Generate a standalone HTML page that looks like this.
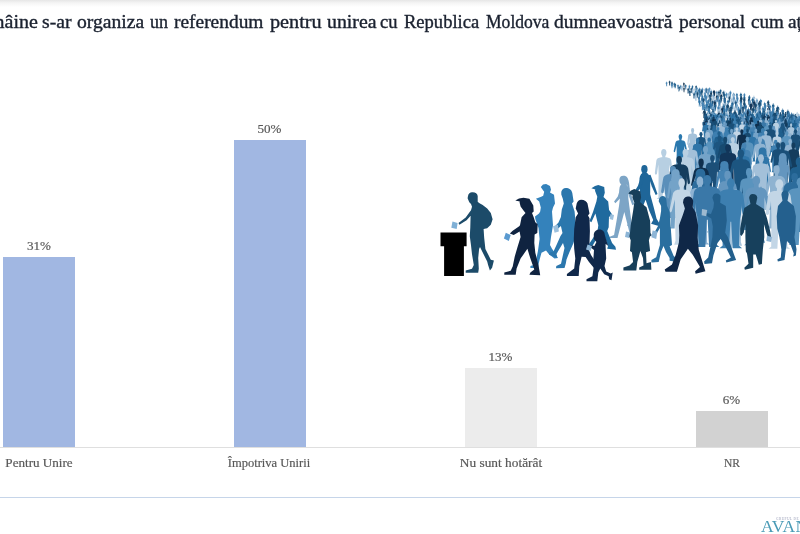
<!DOCTYPE html>
<html lang="ro">
<head>
<meta charset="utf-8">
<title>Referendum unire</title>
<style>
html,body{margin:0;padding:0;}
body{width:800px;height:534px;position:relative;overflow:hidden;background:#fff;font-family:"Liberation Serif",serif;}
.topshade{position:absolute;left:0;top:0;width:800px;height:7px;background:linear-gradient(#e6e6e6,#f4f4f4 40%,#fff);}
.title{position:absolute;left:0;top:0;width:800px;height:44px;overflow:hidden;color:#1b2230;font-size:18.6px;white-space:nowrap;}
.title span{position:absolute;top:10.6px;-webkit-text-stroke:.38px #1b2230;line-height:22px;transform-origin:0 50%;display:inline-block;}
.bar{position:absolute;}
.b1{left:3px;top:257px;width:72px;height:190px;background:#a1b7e2;}
.b2{left:233.700px;top:140.200px;width:72.300px;height:306.800px;background:#a1b7e2;}
.b3{left:465px;top:368px;width:72.400px;height:79px;background:#ececec;}
.b4{left:696px;top:411px;width:72.400px;height:36px;background:#d2d2d2;}
.axis{position:absolute;left:0;top:447px;width:800px;height:1px;background:#dfdfdf;}
.rule{position:absolute;left:0;top:497px;width:800px;height:1px;background:#c6d5e9;}
.val,.lab{position:absolute;color:#595959;-webkit-text-stroke:.2px #595959;font-size:13.1px;line-height:14px;white-space:nowrap;text-align:center;transform:translateX(-50%);}
.logo{position:absolute;left:761px;top:517px;color:#4a9bb6;font-size:17.5px;line-height:18px;letter-spacing:.4px;white-space:nowrap;}
.logosub{position:absolute;left:776px;top:516.800px;color:#9a9fb8;font-size:3.5px;line-height:4px;letter-spacing:.4px;white-space:nowrap;}
#crowd{position:absolute;left:0;top:0;}
</style>
</head>
<body>
<div class="topshade"></div>
<div class="title">
<span style="left:-10.86px;transform:scaleX(1.075)">mâine</span><span style="left:42.26px;transform:scaleX(1.057)">s-ar</span><span style="left:76.93px;transform:scaleX(1.054)">organiza</span><span style="left:149.77px;transform:scaleX(0.969)">un</span><span style="left:174.19px;transform:scaleX(1.044)">referendum</span><span style="left:269.90px;transform:scaleX(1.087)">pentru</span><span style="left:326.50px;transform:scaleX(1.065)">unirea</span><span style="left:380.00px;transform:scaleX(0.995)">cu</span><span style="left:403.95px;transform:scaleX(0.997)">Republica</span><span style="left:485.53px;transform:scaleX(0.944)">Moldova</span><span style="left:554.17px;transform:scaleX(1.053)">dumneavoastră</span><span style="left:679.44px;transform:scaleX(1.049)">personal</span><span style="left:750.76px;transform:scaleX(1.023)">cum</span><span style="left:788.2px;transform:scaleX(1.04)">ați</span>
</div>
<div class="bar b1"></div><div class="bar b2"></div><div class="bar b3"></div><div class="bar b4"></div>
<div class="axis"></div>
<div class="rule"></div>
<div class="val" style="left:39px;top:238.5px">31%</div>
<div class="val" style="left:269.5px;top:122px">50%</div>
<div class="val" style="left:500.5px;top:349.5px">13%</div>
<div class="val" style="left:731.5px;top:392.5px">6%</div>
<div class="lab" style="left:39px;top:456px">Pentru Unire</div>
<div class="lab" style="left:269.4px;top:456px;transform:translateX(-50%) scaleX(.957)">Împotriva Unirii</div>
<div class="lab" style="left:500.5px;top:456px;transform:translateX(-50%) scaleX(1.02)">Nu sunt hotărât</div>
<div class="lab" style="left:732.2px;top:456px;transform:translateX(-50%) scaleX(.88)">NR</div>
<div class="logosub">GRUPUL DE STUDII SOCIO-COMPORTAMENTALE</div>
<div class="logo">AVANGARDE</div>
<!--CROWD-START--><svg id="crowd" width="800" height="534" viewBox="0 0 800 534">
<defs>
<g id="f1"><ellipse cx="0" cy="7.2" rx="5.2" ry="7.2"/><path d="M-3 12V16.5C-8 17-13 17.5-14.5 23L-17.5 47C-18 52-14 53-13.2 48.5L-10.8 31-10.2 52-10.5 97-14 100H-2.5L-0.6 58H0.6L2.5 100H14L10.5 97 10.2 52 10.8 31 13.2 48.5C14 53 18 52 17.5 47L14.5 23C13 17.5 8 17 3 16.5V12Z"/></g>
<g id="f2"><ellipse cx="0" cy="7.2" rx="5" ry="7"/><path d="M-3 12V16.5C-8 17-12 18-13.5 23L-18 44C-19 49-15 50-14 46L-10.5 31-10 52-11.5 96-16 99.5H-5L-0.5 60 3 92 1 96H11.5L9.5 90 10.2 52 10.5 31 15 47C16.5 51 20 49.5 18.5 45.5L13.5 23C12 18 8 17 3 16.5V12Z"/></g>
<g id="f3"><path d="M0-0.5C-6-0.5-7.5 5-7 10-6.8 14-8 16-8.5 18H8.5C8 16 6.8 14 7 10 7.5 5 6-0.5 0-0.5Z"/><path d="M-2.5 13V17C-7 17.5-10.5 18.5-11.5 23L-15 46C-15.5 50-12 50.5-11.5 47L-8.8 31-7.5 42-10.5 56-8 97-11 100H-1.8L-0.5 62H0.5L1.8 100H11L8 97 10.5 56 7.5 42 8.8 31 11.5 47C12 50.5 15.500 50 15 46L11.5 23C10.500 18.500 7 17.500 2.500 17V13Z"/></g>
<g id="f4"><ellipse cx="0" cy="7" rx="5.4" ry="7"/><path d="M-3.500 12V15.500C-10 16-16 17.500-17.500 24L-21 48C-21.500 53-17 54-16.300 49.500L-14 33C-15.500 42-15.500 50-13 58L-11.500 96-16 100H-2.500L-0.600 62H0.600L2.500 100H16L11.500 96 13 58C15.500 50 15.500 42 14 33L16.300 49.500C17 54 21.500 53 21 48L17.500 24C16 17.500 10 16 3.500 15.500V12Z"/></g>
<g id="w1"><ellipse cx="-1" cy="7" rx="5.2" ry="7"/><path d="M-4 12.500C-8 15-9.500 20-9 27L-8 47-15 72-21 94-28.500 97.500V100H-14.500L-6 74 1 57 7 75 13.500 90 10 96.500 22.500 100 24.500 97 19 88 14.500 70 8.500 48 8.500 27C8.500 20 7 15 3 12.500Z"/><path d="M5 17L11 35 17.500 49 20.500 47.500 15.500 33 9 16Z"/><path d="M-6 17L-11.500 34-17.500 44-15 47-6.500 37-2 22Z"/></g>
<g id="w2"><path d="M-1.500-0.300C-7-0.300-8 5-7 9.500-6.500 12-5 13.500-3 14H4C6.500 16 7 20 9 22 9 14 8 8 6 3.500 4.500 0.500 2-0.300-1.500-0.300Z"/><path d="M-4 13C-7 15.500-8 20-7.500 27L-6.500 36-8 48-12 72-16 95-23 98V100H-10.500L-4 75 0.500 58 5 76 9 92 6 97.500 17 100 18.500 97 14.500 89 11.500 70 8.500 48 7 36 7 27C7 20 6 15.500 3 13Z"/><path d="M4 17L8.500 34 13.500 47 16.500 45.500 12.500 32 7.500 16Z"/><path d="M-5 17L-10 33-16 41-14 44-6 36-2 22Z"/></g>
<g id="w3"><ellipse cx="-1" cy="7" rx="5.400" ry="7"/><path d="M-4.500 12.500C-10 15-12.500 20-13 28-14 38-14.500 46-11 52L-14 74-19 95-27 98V100H-12L-5 76 1 60 7 76 12.500 92 9 97 22 100 24 97 18.500 89 15 70 11.500 52C13 44 12.500 34 11.500 27 10.500 19 8 15 3.500 12.500Z"/><path d="M7 17L13.500 35 19 50 22.500 48.500 18 33 11 17Z"/><path d="M-8 18L-14.500 35-20 45-17.500 48-9.500 38-5 24Z"/></g>
<g id="w4"><path d="M-1-0.500C-8-0.500-10 6-9 12-8.500 16-6 18.500-3 19H3C6 19 8.500 16.500 9.500 13 13 15 16 19 17.500 22 17 15 14 10 9.500 8 9 3 5-0.500-1-0.500Z"/><path d="M-5 18C-8 21-9 27-8.500 34L-8 52-13 74-17 94-25 97.500V100H-10L-4 78 1 62 6 78 10 92 7 97 19 100 21 97 16 88 12.500 72 8.500 52 8 34C8 27 7 21 4 18Z"/><path d="M4 23L10 38 18 48 20.500 45.500 14 36 8.500 22Z"/><path d="M-6 23L-13 36-21 42-19.500 45.500-10 40-3 28Z"/></g>
</defs>
<use href="#f1" fill="#143d5e" transform="translate(669.6 80.4) scale(0.052 0.050)"/>
<use href="#f1" fill="#4583b3" transform="translate(666.6 81.5) scale(-0.051 0.047)"/>
<use href="#f1" fill="#1c5580" transform="translate(672.0 81.3) scale(0.059 0.053)"/>
<use href="#f1" fill="#1f5f8d" transform="translate(674.3 82.4) scale(0.054 0.049)"/>
<use href="#f2" fill="#0f2f4d" transform="translate(683.9 82.1) scale(-0.050 0.054)"/>
<use href="#f1" fill="#4583b3" transform="translate(671.9 83.0) scale(-0.053 0.053)"/>
<use href="#f2" fill="#1f5f8d" transform="translate(675.3 83.2) scale(-0.056 0.052)"/>
<use href="#f2" fill="#3a78a8" transform="translate(678.0 84.2) scale(0.054 0.050)"/>
<use href="#f1" fill="#2c6c9c" transform="translate(685.7 84.1) scale(-0.052 0.055)"/>
<use href="#f2" fill="#3a78a8" transform="translate(680.8 84.7) scale(-0.048 0.050)"/>
<use href="#f2" fill="#3d7fb0" transform="translate(689.4 84.5) scale(-0.052 0.054)"/>
<use href="#f2" fill="#2c6c9c" transform="translate(692.5 84.9) scale(0.050 0.053)"/>
<use href="#f1" fill="#174a70" transform="translate(696.1 85.1) scale(-0.053 0.053)"/>
<use href="#f2" fill="#a3c0d9" transform="translate(682.1 85.2) scale(-0.061 0.057)"/>
<use href="#f2" fill="#1c5580" transform="translate(679.2 85.7) scale(0.060 0.059)"/>
<use href="#f2" fill="#4583b3" transform="translate(696.9 86.6) scale(-0.058 0.057)"/>
<use href="#f2" fill="#0f2f4d" transform="translate(684.0 87.0) scale(0.051 0.054)"/>
<use href="#f1" fill="#5a94be" transform="translate(709.6 87.1) scale(0.055 0.056)"/>
<use href="#f1" fill="#174a70" transform="translate(691.4 87.2) scale(-0.064 0.057)"/>
<use href="#f1" fill="#1c5580" transform="translate(706.6 87.5) scale(0.059 0.055)"/>
<use href="#f1" fill="#b9d0e2" transform="translate(694.2 87.7) scale(0.056 0.055)"/>
<use href="#f1" fill="#1a4f78" transform="translate(688.2 87.6) scale(-0.059 0.058)"/>
<use href="#f2" fill="#4583b3" transform="translate(702.4 87.6) scale(-0.065 0.060)"/>
<use href="#f2" fill="#2c6c9c" transform="translate(699.6 87.6) scale(-0.066 0.062)"/>
<use href="#f2" fill="#a3c0d9" transform="translate(692.5 88.2) scale(0.056 0.059)"/>
<use href="#f2" fill="#6496bf" transform="translate(705.5 87.8) scale(0.068 0.064)"/>
<use href="#f1" fill="#6496bf" transform="translate(708.3 88.0) scale(0.064 0.065)"/>
<use href="#f1" fill="#3a78a8" transform="translate(698.8 88.7) scale(0.060 0.058)"/>
<use href="#f1" fill="#1f5f8d" transform="translate(720.6 88.7) scale(0.058 0.060)"/>
<use href="#f1" fill="#174a70" transform="translate(701.7 89.3) scale(-0.064 0.064)"/>
<use href="#f1" fill="#12365a" transform="translate(713.9 89.7) scale(0.062 0.063)"/>
<use href="#f1" fill="#1a4f78" transform="translate(689.8 89.7) scale(-0.063 0.063)"/>
<use href="#f2" fill="#3d7fb0" transform="translate(695.8 89.8) scale(-0.058 0.063)"/>
<use href="#f1" fill="#c3d6e6" transform="translate(724.5 89.9) scale(0.059 0.061)"/>
<use href="#f2" fill="#4583b3" transform="translate(711.2 89.6) scale(0.067 0.065)"/>
<use href="#f1" fill="#4583b3" transform="translate(716.9 90.5) scale(-0.053 0.057)"/>
<use href="#f1" fill="#2c6c9c" transform="translate(700.3 90.4) scale(-0.061 0.063)"/>
<use href="#f2" fill="#12365a" transform="translate(714.4 90.2) scale(0.070 0.066)"/>
<use href="#f2" fill="#1a4f78" transform="translate(723.3 90.6) scale(-0.062 0.063)"/>
<use href="#f2" fill="#174a70" transform="translate(719.0 90.3) scale(0.066 0.067)"/>
<use href="#f1" fill="#3d7fb0" transform="translate(730.4 90.4) scale(-0.065 0.068)"/>
<use href="#f1" fill="#143d5e" transform="translate(711.1 91.5) scale(-0.065 0.060)"/>
<use href="#f1" fill="#174a70" transform="translate(697.4 91.3) scale(-0.060 0.064)"/>
<use href="#f2" fill="#6496bf" transform="translate(708.1 91.1) scale(-0.070 0.067)"/>
<use href="#f2" fill="#6496bf" transform="translate(704.9 91.8) scale(0.067 0.061)"/>
<use href="#f2" fill="#3d7fb0" transform="translate(726.7 92.3) scale(-0.057 0.060)"/>
<use href="#f1" fill="#1c5580" transform="translate(694.1 92.3) scale(0.061 0.061)"/>
<use href="#f1" fill="#3a78a8" transform="translate(733.7 92.6) scale(-0.066 0.061)"/>
<use href="#f2" fill="#8fb3d1" transform="translate(729.0 92.2) scale(-0.071 0.068)"/>
<use href="#f2" fill="#4583b3" transform="translate(699.3 92.7) scale(0.063 0.063)"/>
<use href="#f1" fill="#4583b3" transform="translate(744.4 92.7) scale(0.060 0.065)"/>
<use href="#f2" fill="#3a78a8" transform="translate(736.9 92.7) scale(0.067 0.066)"/>
<use href="#f1" fill="#1f5f8d" transform="translate(724.5 92.5) scale(0.070 0.070)"/>
<use href="#f2" fill="#1f5f8d" transform="translate(740.9 92.5) scale(-0.075 0.071)"/>
<use href="#f2" fill="#6b9cc4" transform="translate(713.2 93.6) scale(-0.061 0.063)"/>
<use href="#f2" fill="#a3c0d9" transform="translate(733.2 93.2) scale(-0.067 0.067)"/>
<use href="#f1" fill="#1a4f78" transform="translate(709.9 93.8) scale(0.070 0.067)"/>
<use href="#f2" fill="#0f2f4d" transform="translate(721.2 93.9) scale(-0.073 0.067)"/>
<use href="#f1" fill="#9bbbd6" transform="translate(695.8 94.4) scale(0.063 0.063)"/>
<use href="#f1" fill="#3d7fb0" transform="translate(705.2 93.7) scale(-0.070 0.071)"/>
<use href="#f2" fill="#3a78a8" transform="translate(702.3 94.5) scale(0.069 0.066)"/>
<use href="#f1" fill="#143d5e" transform="translate(717.0 94.7) scale(0.074 0.067)"/>
<use href="#f1" fill="#1f5f8d" transform="translate(749.3 95.0) scale(-0.068 0.071)"/>
<use href="#f2" fill="#4583b3" transform="translate(718.0 95.4) scale(0.075 0.068)"/>
<use href="#f1" fill="#4583b3" transform="translate(706.2 95.2) scale(0.075 0.071)"/>
<use href="#f1" fill="#174a70" transform="translate(729.5 95.7) scale(-0.065 0.066)"/>
<use href="#f2" fill="#a3c0d9" transform="translate(714.0 95.9) scale(-0.070 0.066)"/>
<use href="#f1" fill="#3a78a8" transform="translate(699.0 96.0) scale(0.065 0.066)"/>
<use href="#f2" fill="#2c6c9c" transform="translate(744.4 95.4) scale(-0.068 0.073)"/>
<use href="#f2" fill="#9bbbd6" transform="translate(753.9 95.5) scale(0.079 0.073)"/>
<use href="#f2" fill="#1c5580" transform="translate(721.2 95.7) scale(0.072 0.072)"/>
<use href="#f2" fill="#4583b3" transform="translate(737.4 96.1) scale(-0.073 0.072)"/>
<use href="#f1" fill="#6496bf" transform="translate(733.9 96.2) scale(-0.072 0.071)"/>
<use href="#f2" fill="#1a4f78" transform="translate(724.7 96.7) scale(-0.074 0.067)"/>
<use href="#f1" fill="#143d5e" transform="translate(741.3 96.1) scale(0.080 0.074)"/>
<use href="#f1" fill="#1c5580" transform="translate(710.7 97.0) scale(-0.062 0.067)"/>
<use href="#f1" fill="#3a78a8" transform="translate(702.2 96.7) scale(0.076 0.073)"/>
<use href="#f1" fill="#174a70" transform="translate(744.3 97.3) scale(-0.072 0.072)"/>
<use href="#f2" fill="#1a4f78" transform="translate(703.6 97.4) scale(-0.072 0.071)"/>
<use href="#f2" fill="#1a4f78" transform="translate(749.1 97.9) scale(0.075 0.069)"/>
<use href="#f2" fill="#a3c0d9" transform="translate(731.8 97.4) scale(-0.076 0.075)"/>
<use href="#f2" fill="#1f5f8d" transform="translate(752.7 97.4) scale(-0.077 0.075)"/>
<use href="#f1" fill="#2c6c9c" transform="translate(724.7 98.2) scale(0.083 0.075)"/>
<use href="#f2" fill="#1a4f78" transform="translate(740.8 98.4) scale(-0.073 0.073)"/>
<use href="#f1" fill="#74a3c8" transform="translate(756.9 98.2) scale(0.078 0.077)"/>
<use href="#f2" fill="#2f75a8" transform="translate(760.8 98.7) scale(-0.074 0.072)"/>
<use href="#f1" fill="#74a3c8" transform="translate(715.8 98.5) scale(-0.081 0.074)"/>
<use href="#f1" fill="#8fb3d1" transform="translate(736.0 99.0) scale(0.073 0.069)"/>
<use href="#f2" fill="#3a78a8" transform="translate(708.6 98.4) scale(-0.082 0.077)"/>
<use href="#f2" fill="#2c6c9c" transform="translate(719.6 98.7) scale(0.076 0.076)"/>
<use href="#f1" fill="#2c6c9c" transform="translate(728.1 99.2) scale(-0.068 0.073)"/>
<use href="#f2" fill="#1c5580" transform="translate(712.6 99.6) scale(-0.073 0.069)"/>
<use href="#f2" fill="#2f75a8" transform="translate(699.6 99.2) scale(-0.077 0.075)"/>
<use href="#f2" fill="#5a94be" transform="translate(749.7 99.5) scale(-0.083 0.077)"/>
<use href="#f2" fill="#174a70" transform="translate(768.2 100.1) scale(-0.078 0.072)"/>
<use href="#f1" fill="#3d7fb0" transform="translate(707.0 100.1) scale(0.069 0.073)"/>
<use href="#f2" fill="#1c5580" transform="translate(735.8 100.4) scale(0.073 0.076)"/>
<use href="#f1" fill="#4583b3" transform="translate(719.3 100.7) scale(-0.069 0.074)"/>
<use href="#f1" fill="#12365a" transform="translate(754.2 100.3) scale(0.085 0.079)"/>
<use href="#f1" fill="#12365a" transform="translate(714.8 100.3) scale(0.074 0.079)"/>
<use href="#f1" fill="#2f75a8" transform="translate(740.7 101.0) scale(-0.069 0.074)"/>
<use href="#f1" fill="#1f5f8d" transform="translate(732.5 101.5) scale(-0.077 0.072)"/>
<use href="#f1" fill="#143d5e" transform="translate(759.4 100.8) scale(-0.084 0.081)"/>
<use href="#f2" fill="#3a78a8" transform="translate(764.7 101.8) scale(-0.067 0.072)"/>
<use href="#f2" fill="#174a70" transform="translate(744.4 101.6) scale(-0.079 0.074)"/>
<use href="#f1" fill="#2f75a8" transform="translate(710.4 101.7) scale(0.078 0.074)"/>
<use href="#f1" fill="#c3d6e6" transform="translate(723.5 101.8) scale(-0.079 0.078)"/>
<use href="#f2" fill="#a9c5dc" transform="translate(727.3 101.7) scale(-0.073 0.079)"/>
<use href="#f1" fill="#6496bf" transform="translate(703.2 101.9) scale(0.081 0.076)"/>
<use href="#f1" fill="#3a78a8" transform="translate(711.8 102.6) scale(-0.075 0.075)"/>
<use href="#f1" fill="#4583b3" transform="translate(702.8 102.0) scale(0.085 0.082)"/>
<use href="#f3" fill="#5a94be" transform="translate(741.1 102.7) scale(-0.085 0.075)"/>
<use href="#f4" fill="#12365a" transform="translate(751.1 102.6) scale(-0.087 0.080)"/>
<use href="#f1" fill="#74a3c8" transform="translate(736.8 103.1) scale(-0.083 0.075)"/>
<use href="#f1" fill="#1c5580" transform="translate(759.6 102.3) scale(-0.080 0.084)"/>
<use href="#f3" fill="#4583b3" transform="translate(731.7 103.0) scale(-0.077 0.079)"/>
<use href="#f1" fill="#2f75a8" transform="translate(706.7 102.5) scale(0.086 0.084)"/>
<use href="#f1" fill="#174a70" transform="translate(755.7 102.7) scale(-0.076 0.082)"/>
<use href="#f4" fill="#174a70" transform="translate(727.6 103.8) scale(0.084 0.075)"/>
<use href="#f1" fill="#3d7fb0" transform="translate(765.3 103.6) scale(-0.075 0.077)"/>
<use href="#f1" fill="#1f5f8d" transform="translate(773.2 103.2) scale(0.081 0.083)"/>
<use href="#f2" fill="#1f5f8d" transform="translate(715.3 103.7) scale(0.077 0.079)"/>
<use href="#f1" fill="#2c6c9c" transform="translate(745.7 103.9) scale(-0.077 0.079)"/>
<use href="#f2" fill="#2c6c9c" transform="translate(723.9 103.9) scale(0.087 0.080)"/>
<use href="#f2" fill="#3a78a8" transform="translate(769.7 103.8) scale(-0.086 0.084)"/>
<use href="#f4" fill="#a9c5dc" transform="translate(720.2 104.6) scale(0.080 0.078)"/>
<use href="#f1" fill="#1c5580" transform="translate(709.1 104.2) scale(0.089 0.089)"/>
<use href="#f2" fill="#4583b3" transform="translate(718.4 105.3) scale(-0.074 0.079)"/>
<use href="#f3" fill="#2f75a8" transform="translate(704.8 104.8) scale(-0.083 0.085)"/>
<use href="#f1" fill="#1a4f78" transform="translate(743.0 105.5) scale(-0.087 0.080)"/>
<use href="#f3" fill="#6b9cc4" transform="translate(758.3 105.2) scale(-0.090 0.083)"/>
<use href="#f1" fill="#1c5580" transform="translate(777.8 105.6) scale(0.091 0.084)"/>
<use href="#f1" fill="#6b9cc4" transform="translate(713.6 105.5) scale(0.083 0.085)"/>
<use href="#f1" fill="#3d7fb0" transform="translate(763.0 106.1) scale(0.076 0.079)"/>
<use href="#f2" fill="#1a4f78" transform="translate(731.0 105.3) scale(-0.082 0.088)"/>
<use href="#f2" fill="#3a78a8" transform="translate(726.6 106.3) scale(0.084 0.082)"/>
<use href="#f1" fill="#a9c5dc" transform="translate(734.7 106.3) scale(-0.082 0.082)"/>
<use href="#f2" fill="#4583b3" transform="translate(773.4 106.5) scale(-0.083 0.081)"/>
<use href="#f4" fill="#174a70" transform="translate(753.3 106.8) scale(0.080 0.079)"/>
<use href="#f2" fill="#12365a" transform="translate(768.5 106.3) scale(0.089 0.085)"/>
<use href="#f2" fill="#12365a" transform="translate(722.3 106.6) scale(0.082 0.083)"/>
<use href="#f3" fill="#4583b3" transform="translate(738.6 106.9) scale(-0.089 0.082)"/>
<use href="#f1" fill="#2c6c9c" transform="translate(748.4 107.6) scale(-0.077 0.080)"/>
<use href="#f3" fill="#3d7fb0" transform="translate(709.0 107.8) scale(0.096 0.087)"/>
<use href="#f1" fill="#2c6c9c" transform="translate(782.7 108.4) scale(-0.084 0.082)"/>
<use href="#f2" fill="#2f75a8" transform="translate(724.4 107.4) scale(0.086 0.093)"/>
<use href="#f3" fill="#174a70" transform="translate(729.9 107.7) scale(-0.090 0.091)"/>
<use href="#f3" fill="#174a70" transform="translate(777.0 108.0) scale(-0.091 0.088)"/>
<use href="#f1" fill="#1a4f78" transform="translate(740.2 108.2) scale(-0.086 0.086)"/>
<use href="#f2" fill="#a9c5dc" transform="translate(768.2 108.1) scale(-0.092 0.089)"/>
<use href="#f2" fill="#3a78a8" transform="translate(755.2 108.2) scale(0.089 0.091)"/>
<use href="#f3" fill="#1c5580" transform="translate(764.0 108.6) scale(0.091 0.093)"/>
<use href="#f1" fill="#c3d6e6" transform="translate(718.8 108.9) scale(0.098 0.091)"/>
<use href="#f1" fill="#3a78a8" transform="translate(772.4 109.7) scale(-0.080 0.082)"/>
<use href="#f1" fill="#6b9cc4" transform="translate(746.2 108.8) scale(0.098 0.092)"/>
<use href="#f3" fill="#1c5580" transform="translate(712.9 109.1) scale(0.098 0.091)"/>
<use href="#f1" fill="#3a78a8" transform="translate(759.7 109.6) scale(0.090 0.087)"/>
<use href="#f2" fill="#143d5e" transform="translate(704.3 109.3) scale(-0.092 0.091)"/>
<use href="#f2" fill="#3a78a8" transform="translate(749.9 109.2) scale(0.103 0.093)"/>
<use href="#f2" fill="#1c5580" transform="translate(787.9 109.5) scale(-0.091 0.091)"/>
<use href="#f2" fill="#174a70" transform="translate(735.0 109.9) scale(0.095 0.087)"/>
<use href="#f4" fill="#3a78a8" transform="translate(770.0 110.2) scale(-0.088 0.095)"/>
<use href="#f1" fill="#1c5580" transform="translate(760.1 110.6) scale(0.092 0.091)"/>
<use href="#f3" fill="#0f2f4d" transform="translate(747.8 110.3) scale(0.101 0.097)"/>
<use href="#f2" fill="#2c6c9c" transform="translate(730.9 111.3) scale(-0.081 0.087)"/>
<use href="#f1" fill="#3a78a8" transform="translate(750.1 111.4) scale(-0.095 0.087)"/>
<use href="#f1" fill="#b9d0e2" transform="translate(727.6 110.5) scale(0.090 0.096)"/>
<use href="#f4" fill="#b9d0e2" transform="translate(754.4 111.3) scale(0.092 0.089)"/>
<use href="#f2" fill="#174a70" transform="translate(783.2 111.4) scale(0.084 0.088)"/>
<use href="#f3" fill="#174a70" transform="translate(739.5 111.3) scale(-0.102 0.092)"/>
<use href="#f1" fill="#3d7fb0" transform="translate(772.6 110.9) scale(-0.099 0.096)"/>
<use href="#f1" fill="#174a70" transform="translate(775.1 111.4) scale(0.099 0.092)"/>
<use href="#f3" fill="#1f5f8d" transform="translate(724.2 111.2) scale(0.097 0.095)"/>
<use href="#f2" fill="#3d7fb0" transform="translate(762.6 111.5) scale(-0.097 0.092)"/>
<use href="#f2" fill="#143d5e" transform="translate(719.0 111.3) scale(0.099 0.094)"/>
<use href="#f4" fill="#2c6c9c" transform="translate(757.3 111.9) scale(-0.087 0.089)"/>
<use href="#f3" fill="#74a3c8" transform="translate(712.9 111.5) scale(-0.090 0.093)"/>
<use href="#f1" fill="#3d7fb0" transform="translate(707.8 111.9) scale(0.098 0.090)"/>
<use href="#f3" fill="#1f5f8d" transform="translate(777.4 111.7) scale(0.089 0.094)"/>
<use href="#f2" fill="#174a70" transform="translate(705.7 112.0) scale(0.101 0.092)"/>
<use href="#f1" fill="#2f75a8" transform="translate(788.7 112.2) scale(-0.086 0.090)"/>
<use href="#f1" fill="#1a4f78" transform="translate(710.0 111.8) scale(-0.088 0.093)"/>
<use href="#f1" fill="#6b9cc4" transform="translate(741.7 112.4) scale(-0.082 0.087)"/>
<use href="#f4" fill="#3d7fb0" transform="translate(744.7 111.8) scale(0.101 0.094)"/>
<use href="#f4" fill="#3d7fb0" transform="translate(721.4 112.5) scale(-0.096 0.087)"/>
<use href="#f2" fill="#3a78a8" transform="translate(788.9 111.6) scale(0.098 0.098)"/>
<use href="#f2" fill="#1f5f8d" transform="translate(764.8 111.8) scale(0.100 0.095)"/>
<use href="#f4" fill="#1c5580" transform="translate(711.1 112.3) scale(0.088 0.091)"/>
<use href="#f4" fill="#b9d0e2" transform="translate(797.2 111.8) scale(-0.106 0.096)"/>
<use href="#f2" fill="#c3d6e6" transform="translate(708.6 112.2) scale(0.098 0.092)"/>
<use href="#f2" fill="#3d7fb0" transform="translate(741.4 112.4) scale(-0.086 0.091)"/>
<use href="#f3" fill="#174a70" transform="translate(785.6 112.0) scale(0.089 0.095)"/>
<use href="#f2" fill="#1f5f8d" transform="translate(752.3 112.3) scale(-0.099 0.093)"/>
<use href="#f1" fill="#2c6c9c" transform="translate(782.8 112.4) scale(0.086 0.093)"/>
<use href="#f1" fill="#2f75a8" transform="translate(767.1 112.0) scale(-0.105 0.097)"/>
<use href="#f3" fill="#4583b3" transform="translate(777.2 111.9) scale(0.096 0.098)"/>
<use href="#f4" fill="#4583b3" transform="translate(736.3 112.7) scale(0.088 0.091)"/>
<use href="#f3" fill="#8fb3d1" transform="translate(780.2 112.8) scale(-0.094 0.091)"/>
<use href="#f3" fill="#1a4f78" transform="translate(780.5 112.3) scale(0.094 0.096)"/>
<use href="#f3" fill="#174a70" transform="translate(733.1 112.7) scale(0.095 0.092)"/>
<use href="#f2" fill="#4583b3" transform="translate(771.6 113.1) scale(-0.084 0.088)"/>
<use href="#f4" fill="#2c6c9c" transform="translate(733.3 112.6) scale(0.102 0.093)"/>
<use href="#f2" fill="#174a70" transform="translate(773.9 112.3) scale(0.095 0.097)"/>
<use href="#f1" fill="#3d7fb0" transform="translate(759.3 112.7) scale(0.101 0.093)"/>
<use href="#f2" fill="#2c6c9c" transform="translate(715.9 112.8) scale(0.089 0.094)"/>
<use href="#f1" fill="#5a94be" transform="translate(720.3 112.7) scale(0.103 0.095)"/>
<use href="#f4" fill="#174a70" transform="translate(792.1 113.4) scale(-0.097 0.087)"/>
<use href="#f3" fill="#a3c0d9" transform="translate(768.5 112.3) scale(0.099 0.099)"/>
<use href="#f2" fill="#1a4f78" transform="translate(762.6 112.8) scale(-0.088 0.095)"/>
<use href="#f1" fill="#3a78a8" transform="translate(791.6 112.5) scale(0.099 0.099)"/>
<use href="#f4" fill="#2f75a8" transform="translate(714.5 113.0) scale(0.099 0.094)"/>
<use href="#f4" fill="#1f5f8d" transform="translate(705.9 113.5) scale(-0.087 0.090)"/>
<use href="#f1" fill="#3d7fb0" transform="translate(726.8 113.2) scale(-0.098 0.096)"/>
<use href="#f2" fill="#1a4f78" transform="translate(793.8 113.4) scale(-0.090 0.096)"/>
<use href="#f3" fill="#1c5580" transform="translate(744.8 113.5) scale(-0.097 0.096)"/>
<use href="#f2" fill="#2c6c9c" transform="translate(723.5 114.0) scale(-0.096 0.090)"/>
<use href="#f3" fill="#1a4f78" transform="translate(736.0 113.3) scale(0.098 0.098)"/>
<use href="#f2" fill="#2f75a8" transform="translate(756.6 113.4) scale(-0.102 0.097)"/>
<use href="#f2" fill="#a9c5dc" transform="translate(765.6 113.9) scale(-0.087 0.092)"/>
<use href="#f1" fill="#2c6c9c" transform="translate(733.5 113.5) scale(0.107 0.099)"/>
<use href="#f4" fill="#1a4f78" transform="translate(750.3 113.7) scale(0.092 0.097)"/>
<use href="#f1" fill="#6496bf" transform="translate(740.2 113.7) scale(-0.108 0.098)"/>
<use href="#f2" fill="#4583b3" transform="translate(717.6 114.3) scale(0.103 0.092)"/>
<use href="#f4" fill="#2c6c9c" transform="translate(753.4 114.6) scale(0.099 0.089)"/>
<use href="#f1" fill="#3d7fb0" transform="translate(743.5 113.1) scale(-0.107 0.104)"/>
<use href="#f3" fill="#2f75a8" transform="translate(717.6 114.2) scale(0.093 0.095)"/>
<use href="#f1" fill="#4583b3" transform="translate(729.9 114.5) scale(0.091 0.092)"/>
<use href="#f1" fill="#143d5e" transform="translate(785.6 114.2) scale(0.103 0.096)"/>
<use href="#f1" fill="#1a4f78" transform="translate(748.0 114.5) scale(-0.096 0.094)"/>
<use href="#f3" fill="#143d5e" transform="translate(729.6 115.2) scale(0.097 0.088)"/>
<use href="#f2" fill="#1f5f8d" transform="translate(705.5 114.4) scale(-0.090 0.096)"/>
<use href="#f2" fill="#174a70" transform="translate(795.4 114.1) scale(-0.101 0.099)"/>
<use href="#f3" fill="#a3c0d9" transform="translate(738.8 115.1) scale(0.098 0.090)"/>
<use href="#f1" fill="#2c6c9c" transform="translate(770.6 114.4) scale(0.101 0.097)"/>
<use href="#f2" fill="#4583b3" transform="translate(712.4 114.6) scale(0.098 0.096)"/>
<use href="#f1" fill="#6b9cc4" transform="translate(802.1 114.3) scale(-0.092 0.098)"/>
<use href="#f2" fill="#3a78a8" transform="translate(764.3 114.1) scale(-0.096 0.102)"/>
<use href="#f2" fill="#5a94be" transform="translate(709.0 114.5) scale(0.096 0.098)"/>
<use href="#f2" fill="#1a4f78" transform="translate(737.2 115.3) scale(0.101 0.092)"/>
<use href="#f2" fill="#9bbbd6" transform="translate(786.5 115.1) scale(-0.103 0.094)"/>
<use href="#f1" fill="#174a70" transform="translate(761.4 115.1) scale(0.091 0.094)"/>
<use href="#f1" fill="#174a70" transform="translate(791.9 114.6) scale(-0.110 0.099)"/>
<use href="#f4" fill="#1f5f8d" transform="translate(783.2 114.9) scale(0.089 0.097)"/>
<use href="#f2" fill="#6b9cc4" transform="translate(799.0 114.3) scale(-0.107 0.103)"/>
<use href="#f3" fill="#1f5f8d" transform="translate(780.2 115.3) scale(0.106 0.095)"/>
<use href="#f1" fill="#143d5e" transform="translate(776.7 114.6) scale(0.101 0.102)"/>
<use href="#f4" fill="#174a70" transform="translate(720.8 115.0) scale(-0.111 0.100)"/>
<use href="#f4" fill="#a9c5dc" transform="translate(724.0 115.6) scale(-0.099 0.094)"/>
<use href="#f3" fill="#1c5580" transform="translate(767.5 114.8) scale(0.095 0.102)"/>
<use href="#f2" fill="#b9d0e2" transform="translate(755.6 115.2) scale(0.098 0.100)"/>
<use href="#f1" fill="#4583b3" transform="translate(749.1 115.8) scale(0.094 0.094)"/>
<use href="#f4" fill="#143d5e" transform="translate(745.8 115.7) scale(-0.092 0.095)"/>
<use href="#f1" fill="#174a70" transform="translate(806.6 113.7) scale(-0.124 0.116)"/>
<use href="#f2" fill="#1a4f78" transform="translate(713.5 115.0) scale(0.098 0.103)"/>
<use href="#f1" fill="#74a3c8" transform="translate(728.1 114.4) scale(0.119 0.110)"/>
<use href="#f2" fill="#1c5580" transform="translate(717.6 114.3) scale(-0.109 0.111)"/>
<use href="#f2" fill="#9bbbd6" transform="translate(744.3 114.3) scale(0.104 0.111)"/>
<use href="#f1" fill="#1f5f8d" transform="translate(788.9 115.3) scale(0.105 0.102)"/>
<use href="#f1" fill="#0f2f4d" transform="translate(768.7 114.8) scale(0.100 0.107)"/>
<use href="#f2" fill="#1c5580" transform="translate(751.4 114.8) scale(-0.111 0.108)"/>
<use href="#f2" fill="#12365a" transform="translate(764.6 114.2) scale(0.122 0.113)"/>
<use href="#f1" fill="#3a78a8" transform="translate(758.1 115.8) scale(0.102 0.098)"/>
<use href="#f2" fill="#3a78a8" transform="translate(773.8 115.5) scale(-0.103 0.102)"/>
<use href="#f2" fill="#5a94be" transform="translate(794.0 114.3) scale(0.106 0.114)"/>
<use href="#f1" fill="#4583b3" transform="translate(726.4 116.6) scale(0.094 0.092)"/>
<use href="#f3" fill="#3d7fb0" transform="translate(734.4 114.5) scale(-0.106 0.113)"/>
<use href="#f1" fill="#1c5580" transform="translate(752.1 116.3) scale(-0.100 0.095)"/>
<use href="#f2" fill="#1a4f78" transform="translate(706.4 114.6) scale(0.108 0.114)"/>
<use href="#f3" fill="#4583b3" transform="translate(714.8 116.3) scale(0.100 0.097)"/>
<use href="#f2" fill="#1f5f8d" transform="translate(757.5 114.6) scale(-0.113 0.115)"/>
<use href="#f1" fill="#a3c0d9" transform="translate(777.3 115.5) scale(-0.105 0.105)"/>
<use href="#f1" fill="#1f5f8d" transform="translate(748.4 116.1) scale(-0.108 0.103)"/>
<use href="#f2" fill="#2c6c9c" transform="translate(737.6 115.6) scale(-0.103 0.108)"/>
<use href="#f1" fill="#3a78a8" transform="translate(787.3 115.3) scale(-0.109 0.115)"/>
<use href="#f3" fill="#4583b3" transform="translate(771.5 116.2) scale(-0.121 0.109)"/>
<use href="#f4" fill="#174a70" transform="translate(721.1 115.5) scale(-0.115 0.116)"/>
<use href="#f1" fill="#2f75a8" transform="translate(731.8 115.4) scale(-0.127 0.117)"/>
<use href="#f1" fill="#174a70" transform="translate(783.6 116.0) scale(-0.122 0.112)"/>
<use href="#f4" fill="#1c5580" transform="translate(740.4 116.9) scale(-0.104 0.103)"/>
<use href="#f1" fill="#b9d0e2" transform="translate(809.5 117.3) scale(-0.098 0.103)"/>
<use href="#f4" fill="#1f5f8d" transform="translate(780.8 116.1) scale(-0.108 0.115)"/>
<use href="#f4" fill="#4583b3" transform="translate(800.4 116.1) scale(0.127 0.116)"/>
<use href="#f1" fill="#1a4f78" transform="translate(774.0 116.6) scale(-0.104 0.110)"/>
<use href="#f1" fill="#1c5580" transform="translate(746.3 115.8) scale(-0.121 0.119)"/>
<use href="#f4" fill="#4583b3" transform="translate(718.8 115.1) scale(0.129 0.126)"/>
<use href="#f2" fill="#3d7fb0" transform="translate(797.5 117.0) scale(-0.102 0.108)"/>
<use href="#f2" fill="#1c5580" transform="translate(803.1 116.1) scale(0.118 0.116)"/>
<use href="#f1" fill="#2c6c9c" transform="translate(754.7 116.9) scale(-0.104 0.109)"/>
<use href="#f3" fill="#2f75a8" transform="translate(734.2 115.6) scale(-0.126 0.122)"/>
<use href="#f3" fill="#5a94be" transform="translate(760.6 117.4) scale(0.106 0.104)"/>
<use href="#f2" fill="#5a94be" transform="translate(791.0 117.6) scale(0.103 0.104)"/>
<use href="#f3" fill="#2c6c9c" transform="translate(792.4 115.8) scale(0.117 0.122)"/>
<use href="#f3" fill="#6b9cc4" transform="translate(750.5 115.5) scale(-0.125 0.125)"/>
<use href="#f1" fill="#8fb3d1" transform="translate(710.3 117.4) scale(0.102 0.106)"/>
<use href="#f1" fill="#1c5580" transform="translate(723.9 116.4) scale(0.110 0.117)"/>
<use href="#f1" fill="#2c6c9c" transform="translate(754.4 116.3) scale(0.114 0.117)"/>
<use href="#f2" fill="#c3d6e6" transform="translate(807.6 115.5) scale(0.141 0.129)"/>
<use href="#f2" fill="#4583b3" transform="translate(743.2 115.8) scale(-0.129 0.126)"/>
<use href="#f1" fill="#1a4f78" transform="translate(765.1 116.6) scale(0.131 0.119)"/>
<use href="#f3" fill="#2c6c9c" transform="translate(776.3 116.1) scale(-0.116 0.126)"/>
<use href="#f2" fill="#1f5f8d" transform="translate(761.2 116.4) scale(0.138 0.124)"/>
<use href="#f2" fill="#3d7fb0" transform="translate(799.4 116.4) scale(0.127 0.124)"/>
<use href="#f2" fill="#2c6c9c" transform="translate(722.7 115.8) scale(-0.141 0.131)"/>
<use href="#f2" fill="#c3d6e6" transform="translate(726.3 115.8) scale(-0.136 0.131)"/>
<use href="#f1" fill="#174a70" transform="translate(710.5 115.0) scale(0.148 0.140)"/>
<use href="#f1" fill="#174a70" transform="translate(804.0 116.9) scale(-0.118 0.123)"/>
<use href="#f4" fill="#2c6c9c" transform="translate(780.7 116.1) scale(-0.141 0.131)"/>
<use href="#f1" fill="#6b9cc4" transform="translate(710.8 116.6) scale(-0.121 0.128)"/>
<use href="#f1" fill="#0f2f4d" transform="translate(714.0 116.5) scale(-0.126 0.129)"/>
<use href="#f2" fill="#3a78a8" transform="translate(795.9 117.8) scale(0.109 0.117)"/>
<use href="#f2" fill="#6b9cc4" transform="translate(788.5 116.9) scale(-0.127 0.127)"/>
<use href="#f2" fill="#1a4f78" transform="translate(784.3 117.2) scale(-0.128 0.125)"/>
<use href="#f1" fill="#1c5580" transform="translate(707.0 118.1) scale(-0.115 0.117)"/>
<use href="#f2" fill="#4583b3" transform="translate(757.9 117.1) scale(0.140 0.127)"/>
<use href="#f4" fill="#1c5580" transform="translate(739.0 116.9) scale(-0.122 0.130)"/>
<use href="#f1" fill="#2f75a8" transform="translate(772.2 118.4) scale(0.123 0.119)"/>
<use href="#f1" fill="#c3d6e6" transform="translate(768.8 118.6) scale(-0.114 0.118)"/>
<use href="#f1" fill="#3d7fb0" transform="translate(730.2 117.5) scale(-0.136 0.130)"/>
<use href="#f2" fill="#1a4f78" transform="translate(775.0 117.1) scale(-0.145 0.135)"/>
<use href="#f3" fill="#8fb3d1" transform="translate(766.0 117.6) scale(0.139 0.131)"/>
<use href="#f2" fill="#3d7fb0" transform="translate(793.9 117.4) scale(0.125 0.134)"/>
<use href="#f1" fill="#9bbbd6" transform="translate(760.8 117.6) scale(0.129 0.133)"/>
<use href="#f2" fill="#2c6c9c" transform="translate(801.4 116.3) scale(-0.152 0.146)"/>
<use href="#f3" fill="#c3d6e6" transform="translate(809.4 117.5) scale(-0.150 0.135)"/>
<use href="#f1" fill="#1c4f78" transform="translate(704.0 120.0) scale(0.102 0.110)"/>
<use href="#f3" fill="#2f75a8" transform="translate(755.7 117.5) scale(-0.140 0.135)"/>
<use href="#f1" fill="#3a78a8" transform="translate(770.2 117.5) scale(-0.144 0.136)"/>
<use href="#f3" fill="#0f2f4d" transform="translate(751.2 117.2) scale(0.152 0.140)"/>
<use href="#f2" fill="#1c5580" transform="translate(738.2 116.5) scale(0.146 0.147)"/>
<use href="#f3" fill="#3a78a8" transform="translate(778.9 117.9) scale(-0.145 0.134)"/>
<use href="#f4" fill="#1f5f8d" transform="translate(805.5 118.1) scale(0.133 0.132)"/>
<use href="#f4" fill="#6496bf" transform="translate(742.9 116.8) scale(-0.165 0.149)"/>
<use href="#f1" fill="#174a70" transform="translate(727.5 117.9) scale(-0.127 0.138)"/>
<use href="#f3" fill="#8fb3d1" transform="translate(719.5 117.7) scale(0.156 0.141)"/>
<use href="#f3" fill="#4583b3" transform="translate(724.0 117.7) scale(0.143 0.142)"/>
<use href="#f2" fill="#6b9cc4" transform="translate(784.3 118.1) scale(-0.139 0.139)"/>
<use href="#f3" fill="#3a78a8" transform="translate(797.9 119.0) scale(-0.125 0.133)"/>
<use href="#f1" fill="#174a70" transform="translate(715.2 118.7) scale(-0.133 0.137)"/>
<use href="#f3" fill="#174a70" transform="translate(732.9 118.2) scale(0.156 0.146)"/>
<use href="#f2" fill="#143d5e" transform="translate(746.3 118.7) scale(0.149 0.141)"/>
<use href="#f2" fill="#2c6c9c" transform="translate(788.5 119.3) scale(-0.128 0.135)"/>
<use href="#f1" fill="#12365a" transform="translate(706.6 118.6) scale(0.147 0.148)"/>
<use href="#f3" fill="#1a4f78" transform="translate(711.1 119.0) scale(-0.138 0.145)"/>
<use href="#f1" fill="#143d5e" transform="translate(730.3 117.7) scale(-0.158 0.165)"/>
<use href="#f2" fill="#3d7fb0" transform="translate(734.5 117.9) scale(-0.162 0.168)"/>
<use href="#f4" fill="#6b9cc4" transform="translate(779.6 119.1) scale(-0.157 0.159)"/>
<use href="#f2" fill="#2c6c9c" transform="translate(789.7 118.6) scale(0.186 0.166)"/>
<use href="#f2" fill="#a3c0d9" transform="translate(708.6 119.9) scale(0.173 0.155)"/>
<use href="#f2" fill="#174a70" transform="translate(773.8 120.3) scale(0.163 0.151)"/>
<use href="#f2" fill="#1a4f78" transform="translate(719.7 120.2) scale(0.162 0.159)"/>
<use href="#f3" fill="#143d5e" transform="translate(785.6 119.4) scale(0.172 0.169)"/>
<use href="#f1" fill="#174a70" transform="translate(804.4 119.6) scale(-0.181 0.168)"/>
<use href="#f1" fill="#2f75a8" transform="translate(758.0 119.6) scale(0.186 0.169)"/>
<use href="#f1" fill="#9bbbd6" transform="translate(769.0 121.5) scale(-0.162 0.151)"/>
<use href="#f2" fill="#1f5f8d" transform="translate(794.7 119.9) scale(0.175 0.167)"/>
<use href="#f1" fill="#1f5f8d" transform="translate(740.9 120.3) scale(-0.159 0.166)"/>
<use href="#f3" fill="#174a70" transform="translate(810.2 121.3) scale(0.163 0.156)"/>
<use href="#f2" fill="#6496bf" transform="translate(745.6 121.1) scale(0.173 0.158)"/>
<use href="#f2" fill="#6b9cc4" transform="translate(751.9 121.8) scale(-0.165 0.153)"/>
<use href="#f3" fill="#74a3c8" transform="translate(724.3 121.8) scale(0.143 0.153)"/>
<use href="#f2" fill="#3a78a8" transform="translate(763.1 122.0) scale(0.162 0.152)"/>
<use href="#f4" fill="#6b9cc4" transform="translate(799.8 120.8) scale(0.163 0.165)"/>
<use href="#f1" fill="#174a70" transform="translate(713.1 121.3) scale(0.153 0.161)"/>
<use href="#f1" fill="#3a78a8" transform="translate(763.4 119.4) scale(-0.215 0.193)"/>
<use href="#f2" fill="#b9d0e2" transform="translate(776.0 119.9) scale(-0.205 0.194)"/>
<use href="#f1" fill="#1a4f78" transform="translate(731.9 120.3) scale(-0.204 0.191)"/>
<use href="#f4" fill="#2c6c9c" transform="translate(736.8 121.7) scale(0.169 0.179)"/>
<use href="#f4" fill="#0f2f4d" transform="translate(758.2 120.7) scale(-0.205 0.189)"/>
<use href="#f4" fill="#2f75a8" transform="translate(706.2 122.2) scale(-0.195 0.176)"/>
<use href="#f3" fill="#5a94be" transform="translate(808.2 122.5) scale(-0.193 0.175)"/>
<use href="#f3" fill="#6b9cc4" transform="translate(753.2 122.3) scale(-0.191 0.179)"/>
<use href="#f1" fill="#9bbbd6" transform="translate(802.8 120.5) scale(-0.215 0.198)"/>
<use href="#f2" fill="#c3d6e6" transform="translate(742.1 121.4) scale(-0.203 0.188)"/>
<use href="#f1" fill="#1a4f78" transform="translate(713.2 123.1) scale(-0.187 0.180)"/>
<use href="#f4" fill="#c3d6e6" transform="translate(720.0 123.4) scale(0.179 0.177)"/>
<use href="#f1" fill="#6496bf" transform="translate(725.8 122.8) scale(0.203 0.187)"/>
<use href="#f1" fill="#1a4f78" transform="translate(790.4 122.5) scale(-0.206 0.191)"/>
<use href="#f1" fill="#6b9cc4" transform="translate(783.7 123.6) scale(0.197 0.180)"/>
<use href="#f1" fill="#1f5f8d" transform="translate(770.2 122.0) scale(0.193 0.197)"/>
<use href="#f1" fill="#1f5f8d" transform="translate(746.9 123.0) scale(-0.214 0.192)"/>
<use href="#f4" fill="#2f75a8" transform="translate(797.5 123.4) scale(0.194 0.189)"/>
<use href="#f2" fill="#a9c5dc" transform="translate(799.9 123.4) scale(0.235 0.212)"/>
<use href="#f2" fill="#5a94be" transform="translate(767.0 122.7) scale(0.208 0.220)"/>
<use href="#f3" fill="#1c5580" transform="translate(782.6 123.0) scale(-0.244 0.219)"/>
<use href="#f1" fill="#174a70" transform="translate(760.2 122.0) scale(0.251 0.233)"/>
<use href="#f1" fill="#74a3c8" transform="translate(737.0 123.5) scale(0.217 0.224)"/>
<use href="#f1" fill="#6b9cc4" transform="translate(809.5 125.4) scale(0.227 0.208)"/>
<use href="#f4" fill="#9bbbd6" transform="translate(721.3 122.9) scale(0.225 0.233)"/>
<use href="#f1" fill="#a9c5dc" transform="translate(791.1 123.3) scale(-0.223 0.233)"/>
<use href="#f2" fill="#4583b3" transform="translate(753.3 123.4) scale(-0.235 0.232)"/>
<use href="#f3" fill="#6496bf" transform="translate(773.7 125.8) scale(0.201 0.208)"/>
<use href="#f3" fill="#2c6c9c" transform="translate(714.2 125.1) scale(-0.228 0.224)"/>
<use href="#f4" fill="#1f5f8d" transform="translate(729.5 126.9) scale(0.228 0.207)"/>
<use href="#f4" fill="#3d7fb0" transform="translate(745.3 126.6) scale(-0.223 0.211)"/>
<use href="#f1" fill="#174a70" transform="translate(708.4 127.2) scale(-0.220 0.207)"/>
<use href="#f2" fill="#74a3c8" transform="translate(709.2 125.3) scale(-0.266 0.267)"/>
<use href="#f4" fill="#1a4f78" transform="translate(770.1 125.1) scale(0.290 0.269)"/>
<use href="#f3" fill="#174a70" transform="translate(808.1 127.2) scale(0.270 0.250)"/>
<use href="#f2" fill="#c3d6e6" transform="translate(736.8 127.5) scale(-0.262 0.248)"/>
<use href="#f2" fill="#6b9cc4" transform="translate(798.8 126.9) scale(-0.285 0.258)"/>
<use href="#f3" fill="#3d7fb0" transform="translate(762.9 128.0) scale(0.268 0.247)"/>
<use href="#f3" fill="#3d7fb0" transform="translate(726.6 127.5) scale(0.253 0.253)"/>
<use href="#f3" fill="#1f5f8d" transform="translate(780.4 128.2) scale(-0.234 0.249)"/>
<use href="#f2" fill="#174a70" transform="translate(747.5 128.9) scale(0.257 0.244)"/>
<use href="#f1" fill="#74a3c8" transform="translate(755.9 128.8) scale(0.277 0.255)"/>
<use href="#f4" fill="#3d7fb0" transform="translate(717.9 127.1) scale(0.270 0.274)"/>
<use href="#f1" fill="#8fb3d1" transform="translate(788.4 129.0) scale(0.272 0.262)"/>
<use href="#f4" fill="#9bbbd6" transform="translate(765.7 130.7) scale(-0.319 0.293)"/>
<use href="#f2" fill="#1a4f78" transform="translate(795.5 129.3) scale(0.332 0.308)"/>
<use href="#f1" fill="#74a3c8" transform="translate(731.6 128.8) scale(0.292 0.317)"/>
<use href="#f1" fill="#b9d0e2" transform="translate(777.1 131.6) scale(0.297 0.292)"/>
<use href="#f1" fill="#a5c2da" transform="translate(692.6 128.0) scale(0.305 0.330)"/>
<use href="#f1" fill="#0f2f4d" transform="translate(741.8 129.2) scale(0.301 0.319)"/>
<use href="#f3" fill="#a3c0d9" transform="translate(707.6 132.2) scale(-0.320 0.295)"/>
<use href="#f1" fill="#1c5580" transform="translate(701.0 132.0) scale(-0.301 0.300)"/>
<use href="#f2" fill="#5a94be" transform="translate(786.7 130.9) scale(0.324 0.311)"/>
<use href="#f2" fill="#2f75a8" transform="translate(751.9 131.5) scale(0.315 0.312)"/>
<use href="#f2" fill="#1f5f8d" transform="translate(719.0 131.1) scale(0.316 0.320)"/>
<use href="#f1" fill="#3a78a8" transform="translate(808.8 133.6) scale(0.287 0.298)"/>
<use href="#f2" fill="#4583b3" transform="translate(759.8 132.5) scale(-0.362 0.366)"/>
<use href="#f2" fill="#174a70" transform="translate(804.8 131.9) scale(0.408 0.374)"/>
<use href="#f1" fill="#2f75a8" transform="translate(709.2 137.5) scale(0.356 0.341)"/>
<use href="#f2" fill="#2a78ae" transform="translate(680.4 134.0) scale(0.368 0.376)"/>
<use href="#f4" fill="#5a94be" transform="translate(747.4 136.8) scale(-0.333 0.355)"/>
<use href="#f2" fill="#2f75a8" transform="translate(697.6 138.0) scale(0.337 0.346)"/>
<use href="#f2" fill="#1c5580" transform="translate(719.5 135.5) scale(-0.400 0.377)"/>
<use href="#f1" fill="#8fb3d1" transform="translate(790.1 139.0) scale(-0.346 0.343)"/>
<use href="#f2" fill="#3d7fb0" transform="translate(775.7 139.8) scale(-0.355 0.337)"/>
<use href="#f1" fill="#b9d0e2" transform="translate(732.8 136.9) scale(-0.396 0.366)"/>
<use href="#f2" fill="#174a70" transform="translate(725.2 136.6) scale(-0.416 0.441)"/>
<use href="#f1" fill="#3a78a8" transform="translate(811.8 137.0) scale(-0.462 0.437)"/>
<use href="#f2" fill="#8fb3d1" transform="translate(760.0 136.3) scale(0.416 0.448)"/>
<use href="#f3" fill="#5a94be" transform="translate(709.4 141.6) scale(-0.447 0.412)"/>
<use href="#f2" fill="#143d5e" transform="translate(793.4 142.4) scale(-0.397 0.415)"/>
<use href="#f2" fill="#1a4f78" transform="translate(778.1 142.2) scale(0.415 0.426)"/>
<use href="#f1" fill="#a3c0d9" transform="translate(690.4 142.7) scale(0.470 0.423)"/>
<use href="#f1" fill="#4583b3" transform="translate(744.2 142.7) scale(0.428 0.431)"/>
<use href="#f2" fill="#1a4f78" transform="translate(782.8 141.8) scale(0.500 0.518)"/>
<use href="#f1" fill="#12365a" transform="translate(728.0 144.3) scale(0.554 0.505)"/>
<use href="#f2" fill="#74a3c8" transform="translate(705.5 145.9) scale(-0.511 0.490)"/>
<use href="#f1" fill="#a9c5dc" transform="translate(805.4 148.5) scale(-0.515 0.469)"/>
<use href="#f1" fill="#2f75a8" transform="translate(742.8 148.1) scale(-0.473 0.473)"/>
<use href="#f3" fill="#1f5a85" transform="translate(683.0 159.0) scale(0.388 0.380)"/>
<use href="#f3" fill="#2f75a8" transform="translate(762.6 147.7) scale(0.552 0.497)"/>
<use href="#f1" fill="#b7cfe2" transform="translate(663.8 149.0) scale(0.511 0.500)"/>
<use href="#f1" fill="#b9d0e2" transform="translate(685.5 148.9) scale(-0.568 0.508)"/>
<use href="#f1" fill="#1c4f78" transform="translate(712.4 155.0) scale(0.431 0.450)"/>
<use href="#f2" fill="#1c5580" transform="translate(740.8 149.3) scale(-0.651 0.599)"/>
<use href="#f4" fill="#143d5e" transform="translate(679.2 155.9) scale(-0.513 0.539)"/>
<use href="#f1" fill="#a3c0d9" transform="translate(761.0 154.3) scale(0.572 0.558)"/>
<use href="#f3" fill="#6496bf" transform="translate(782.8 153.2) scale(0.552 0.600)"/>
<use href="#f2" fill="#0f2f4d" transform="translate(701.1 158.5) scale(-0.531 0.556)"/>
<use href="#f3" fill="#4583b3" transform="translate(724.4 161.3) scale(-0.587 0.529)"/>
<use href="#f1" fill="#1f5f8d" transform="translate(798.8 157.4) scale(0.596 0.589)"/>
<use href="#f4" fill="#5a8fba" transform="translate(673.0 166.0) scale(0.563 0.520)"/>
<use href="#w1" fill="#1f6699" transform="translate(645.0 165.0) scale(0.610 0.610)"/>
<use href="#f3" fill="#74a3c8" transform="translate(675.7 169.4) scale(-0.573 0.591)"/>
<use href="#f2" fill="#8fb3d1" transform="translate(776.5 165.2) scale(0.631 0.637)"/>
<use href="#f1" fill="#5a94be" transform="translate(749.0 167.9) scale(0.584 0.621)"/>
<use href="#f4" fill="#2c6c9c" transform="translate(794.6 172.9) scale(0.608 0.590)"/>
<use href="#f3" fill="#2c6c9c" transform="translate(700.5 169.0) scale(0.690 0.632)"/>
<use href="#f2" fill="#6496bf" transform="translate(727.5 170.7) scale(0.634 0.620)"/>
<use href="#w2" fill="#7da5c6" transform="translate(624.0 176.0) scale(0.620 0.620)"/>
<use href="#f1" fill="#8db2d2" transform="translate(700.0 176.6) scale(-0.677 0.680)"/>
<use href="#f4" fill="#5a94be" transform="translate(800.6 177.4) scale(0.749 0.677)"/>
<use href="#f2" fill="#6496bf" transform="translate(756.3 175.6) scale(0.769 0.699)"/>
<use href="#f4" fill="#3a78a8" transform="translate(707.2 175.1) scale(0.757 0.719)"/>
<use href="#f2" fill="#c3d6e6" transform="translate(681.7 178.0) scale(-0.651 0.696)"/>
<use href="#f2" fill="#a9c5dc" transform="translate(735.0 189.0) scale(0.616 0.590)"/>
<use href="#f4" fill="#3d7fb0" transform="translate(730.8 178.3) scale(0.706 0.699)"/>
<use href="#f1" fill="#c3d6e6" transform="translate(779.3 179.2) scale(-0.773 0.696)"/>
<path fill="#1f6a9e" d="M591.400 188.300L595 186 598.300 184.900 604.200 186.900 604.800 192.800 603.500 197 608.200 201.600 609.100 210 611.500 213.400 613 216.500 610.500 218 609 216 608.700 227.200 607.200 231.100 612.100 242.900 615.400 246.800 616 249.800 607.200 248.800 608 246 605 238 601 231.500 597 238 592.400 246 589 250 582 249.500 583 247.500 588 245.500 592.400 239 597.500 231.100 598.300 225.200 595.400 213.400 591.400 222.300 589.500 221 593 212 596.400 201.600 597.300 196.700 595 190.800 595.300 189.500Z"/>
<path fill="#24608e" d="M785 190.500C788 190.500 788.700 192.500 788.700 194.600L787.500 200.800 793.800 206 795.900 216.200 795.300 230.700 794.400 236.900 796.500 249.200 795.900 255.400 793.200 256.400 793.800 253.400 790.700 245.100 787 241 785.600 251.300 784.500 260 777.900 261.600 777.300 259.500 780.800 257.500 781.400 249.200 779.400 236.900 777.300 228.600 776.700 216.200 778 206 782.500 200.800 781.400 194.600C781.800 192 783 190.500 785 190.500Z"/>
<path fill="#2a6f9f" d="M662.300 195.900C665 195.900 666.400 198 666.400 200L667 206 669.600 211 670.800 228 672 245 669.600 246.200 673.700 256 676.900 258.400V262L669.600 260.800 669.600 258 666 252 663.500 246 661 252 658.700 262 651.400 262.500V260.100L656.200 257.200 659.900 245 659.900 228 657 233 655 231.600 658 226 660 218 661.100 211 661.100 206.100 658.700 201.200C659 198 660.300 195.900 662.300 195.900Z"/>
<path fill="#235f8c" d="M716.100 193.600C719 193.600 720.600 195 720.600 196.600L720.200 202.800 725.800 205.900 726.800 220.400 725.200 232.700 727.800 236.900 734 254.400 736.100 260 726.400 262.600 725.800 260.600 730.900 257.500 724.700 245.100 720.600 238.900 717.500 243 713.400 255.400 712 263.200 704.500 264.100 704.100 261.600 708.200 257.500 709.900 249.200 712.400 236.900 712.800 226.500 711.300 218.500 705.200 215 704.500 212.500 711 214 712.500 210 713.400 208 714 202.800 712.400 197.700C713 195 714.300 193.600 716.100 193.600Z"/>
<path fill="#3482bb" d="M540.800 186.900L543 184.500 546.100 183.900 550 185.900 551 189.800 550 192.500 554 194.700 555 203.600 553 207.500 552 211.400 553 225.200 551 237 550 245 552 248.800 556 254.500 558 258 554.500 258.500 549 254.300 546 250.500 541.500 252.700 539.500 260 538.500 264.500 538.300 268H530.400V266.100L535 264.500 536.500 258 538 250.800 539.600 239 538.500 228 535.300 219 535 216.500 539 213.500 540.200 211.400 540.800 207.500 539.200 201.600 535.900 198.700 541.200 196.700 543.200 195.700 544.200 191.800 542.500 189.500Z"/>
<path fill="#2b77ad" d="M565.800 187.900C569 187.900 571.700 189.500 572.300 193L573.600 201.600 572 203.500 574.600 211.400 575.600 223.200 575.600 235 573.500 243 569.500 252 566.500 259.500 565.800 263.500 564.500 268 556 268.300 556.300 266 561 263.800 562.500 257 564.500 248 563 243 558.500 250.500 556.500 254 557 257.600 549 254.800 550 252.500 553.500 251.500 556.500 245 560.500 236 562.500 233.100 560.900 226 557 229.500 555 226.200 558.500 222.500 560.900 217 561.800 209.500 563.800 203.500 562.800 198.700 561.300 194.500 561.300 191.800C562 189.500 563.500 187.900 565.800 187.900Z"/>
<path fill="#17405c" d="M752.600 194C755.500 194 757.300 195.500 757.300 197.700L756 203.900 763.900 209 767 218.300 770.100 230.700 771.100 236.900 768 237.500 766.400 232.700 763.900 224 764.300 236.900 762.900 249.200 762.300 257.500 761.900 264.100 758.800 264.700 757.300 259.500 755.700 254.400H753.200L753.200 267.800 744.900 269.800 744.300 267.800 748.500 263.700 747 253.400 745.800 251.300 745.400 236.900 745.400 224 743.700 232.700 741.500 236 740.200 234.800 740.200 228.600 742.300 216.200 744.300 208 750.500 203.900 749.100 197.700C749.500 195.500 750.500 194 752.600 194Z"/>
<path fill="#173f5a" d="M628.200 193.400L631 190.500 634.300 189.100 640.400 191.500 641.100 197.600 640 202 646.500 207.300 650.100 220.700 650.500 232.900 651.800 235.300 650 236.500 648.900 240.200 650.100 251.100 646 252.300 646.500 263.300 650.900 262.100 651.400 269.800H639.200V267.400L643.500 265.500 643 258 640.400 251.100 637.300 262.100 636.300 270.600H623.400V267.400L629.500 265.500 633.100 262.100 631.900 252.300 630 251.100 630.700 240.200 628.200 234 630 232.900 630.700 225.600 633.100 211 634.300 202.400 632.400 197.600 632.600 195Z"/>
<path fill="#1c4b69" d="M472 192.300C475 192 477.500 193.500 477.700 196L477.700 201.800 479.100 203.100 482.700 204.900 487.200 208.500 490.800 213 492.600 219.300 490.800 224.700 487.200 228.200 483.600 229.100 484.200 238.100 485.400 248.900 490.800 259.700 493.900 260.600 492.100 267.800 489.900 270.500 488.100 265.100 487.200 261.500 480 247.100 479.100 248.900 478.200 257.900 478.800 268.700 478.200 272.700H465.700V270.500L472 268.700 473.800 265.100 472 254.300 471 245.300 469.800 236.300 470.300 227.300 470.600 215.700 466.600 220.200 459.400 224.700 458.500 222.900 465.700 217.500 471 210.300 472 206.700 471 204 469.300 202.200 467.600 198.200 468 195.900C468.500 193.500 470 192.300 472 192.300Z"/>
<path fill="#0f2747" d="M687.900 196.400C691 196.400 693.200 198.500 693.200 201.200L692.700 207.300 695.600 212.200 698.100 225.600 697.600 237.700 698.800 249.900 703.700 265.700 705.400 271.300 695.600 273.700 695.100 271.300 700 266.900 692.700 254.800 687.900 248.700 680.600 259.600 676.900 271.800H665.500L664.700 269.400 672 264.500 675.700 254.800 678.900 242.600 679.300 235.300 678.900 225.600 683 214.600 684.900 208.500 683 202.400 683.500 199.500C684.500 197.500 686 196.400 687.900 196.400Z"/>
<path fill="#0f2340" d="M515.300 200.600L519 198.600 523.500 197.700 529.400 198.700 533.300 205.600 533.700 211.400 532 213 533.700 217.300 535.300 222.300 537.700 224.200 537.300 233.100 534.600 234.500 534.300 242.900 535.300 252.700 538.300 264.500 539.600 271.400 540.200 275.300 529.400 274.700 530.400 272.400 534.300 269.400 530.400 258.600 527.400 248.800 520.600 258.600 516.600 268.500 515.700 274.700H504.300V272.400L510.700 270.800 512.700 266.500 514.700 256.700 517.600 246.800 520.600 237 519.600 231.500 513.700 235 509.800 233.500 512.700 230.700 519.200 226.200 520 225.200 521.600 217.300 525.500 213 523.500 210.500 520.600 206.500 519.600 202.600 519.800 201.600Z"/>
<path fill="#10284a" d="M581.200 199.700C584.500 199.700 587 201.500 587.500 203.600L589.500 213.400 588 215.500 589.500 218.300 589.900 231.100 589.500 242.900 588.500 249 591 255 595 261 598 267 594 268 589 262 585.600 257 581.600 256.700 579.300 266.500 578.700 275.900H566.900V274L574.200 268.500 575.300 258.600 574.200 248.800 573.800 239 574.200 229.100 575.700 217.300 578.100 213.400 575.700 208.500 576.700 203.600C577.500 201.300 579 199.700 581.200 199.700Z"/>
<path fill="#10284a" d="M599.300 229.500C603 229.500 604.800 232 604.800 235L607.200 242.900 608.200 245.800 605.600 244 605.600 246.800 606.200 258.600 604.500 266 606.200 271.400 610.700 273.400 612.700 272.400 611.500 280.300 609.100 279.300 608.700 276.300 604.200 274.300 600.300 268.500 598.300 272.400 597.300 281.200H586.500V279.300L592.400 276.300 593.800 266.500 593.400 258.600 594 250 590 247 589.500 244.900 594.400 246 596.400 241.900 593.800 239 593.800 234.100C594.500 231 596.500 229.500 599.300 229.500Z"/>
<path fill="#000" d="M440.500 232.400H466.600V246.200H463.900V275.900H444.100V246.200H440.500Z"/>
<path fill="#7fb0d6" d="M452.500 221.400L457.600 222.900 456.700 229.100 451.300 227.700Z"/>
<path fill="#5a9ad0" d="M505.800 232.700L510.700 235 508.800 240.900 503.900 238.600Z"/>
<path fill="#9cc0dd" d="M553 226.200L557.900 224.800 558.900 231.500 554.600 232.700Z"/>
<path fill="#8db5d6" d="M652.600 230.400L657.400 231.600 656.200 238.900 651.400 237.200Z"/>
<path fill="#9db9d0" d="M702 209L707.200 210 706.200 216.200 701.600 215.200Z"/>
<path fill="#8fb5d5" d="M767 235.800L772.200 236.900 771.100 242 766.400 241Z"/>
<path fill="#8db5d6" d="M587.500 244.500L592 246 590.500 251 586 249.500Z"/>
<path fill="#9cc0dd" d="M610.500 214L614 215 613 220 609.500 219Z"/>
<path fill="#8db5d6" d="M626 231.500L630 232.500 629 238 625 237Z"/>
</svg><!--CROWD-END-->
</body>
</html>
